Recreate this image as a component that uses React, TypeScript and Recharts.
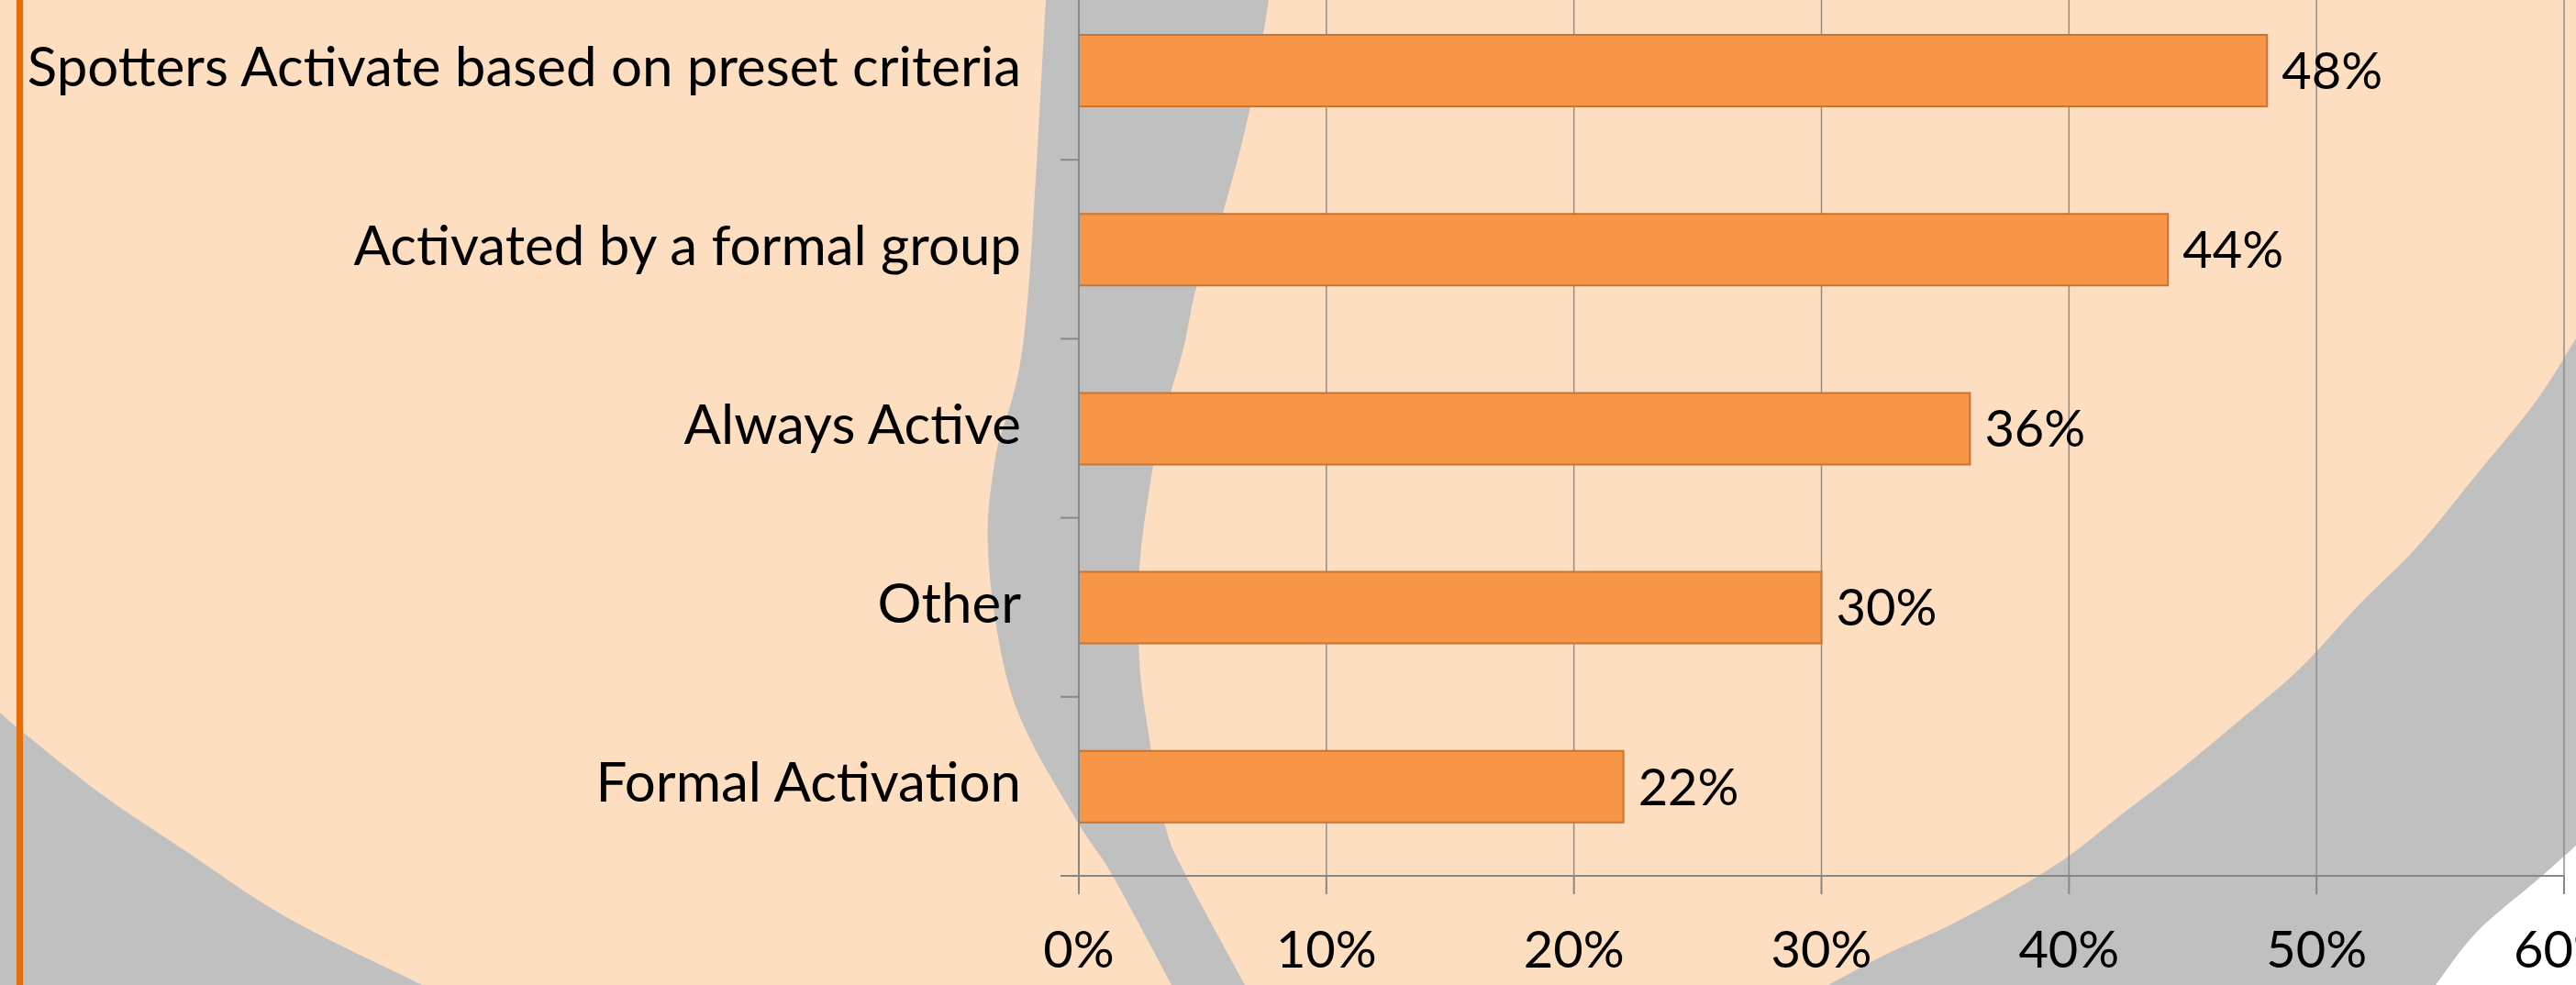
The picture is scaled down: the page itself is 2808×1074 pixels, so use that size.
import React from 'react';
import { BarChart, Bar, XAxis, YAxis, CartesianGrid, LabelList } from 'recharts';

const categories = [
  'Spotters Activate based on preset criteria',
  'Activated by a formal group',
  'Always Active',
  'Other',
  'Formal Activation',
];
const values = [48, 44, 36, 30, 22];
const xTicks = [0, 10, 20, 30, 40, 50, 60];

const data = categories.map((name, i) => ({ name, value: values[i] }));

// slide background decoration (not data)
const bandLeft = [
  [1140, 0], [1117, 360], [1085, 500], [1077, 600], [1093, 720],
  [1120, 800], [1177, 900], [1213, 955], [1277, 1074],
];
const bandRight = [
  [1383, 0], [1363, 116], [1333, 232], [1305, 310], [1290, 380], [1270, 450],
  [1255, 520], [1242, 620], [1242, 720], [1252, 800], [1270, 900], [1293, 955], [1357, 1074],
];
const cornerLeft = [[0, 777], [27, 800], [112, 867], [201, 927], [312, 1000], [446, 1067], [460, 1074]];
const arcRight = [
  [2808, 369], [2764, 438], [2700, 517], [2635, 596], [2571, 660], [2507, 729], [2443, 784],
  [2378, 838], [2314, 887], [2250, 937], [2186, 976], [2121, 1011], [2057, 1040], [1993, 1074],
];
const whiteCorner = [[2808, 922], [2764, 961], [2700, 1016], [2655, 1074]];

// catmull-rom through the points, continuing an already started path
const curve = (pts: number[][]) => {
  let d = '';
  for (let i = 0; i < pts.length - 1; i++) {
    const p0 = pts[i - 1] || pts[i];
    const p1 = pts[i];
    const p2 = pts[i + 1];
    const p3 = pts[i + 2] || p2;
    const c1 = [p1[0] + (p2[0] - p0[0]) / 6, p1[1] + (p2[1] - p0[1]) / 6];
    const c2 = [p2[0] - (p3[0] - p1[0]) / 6, p2[1] - (p3[1] - p1[1]) / 6];
    d += ` C${c1[0]},${c1[1]} ${c2[0]},${c2[1]} ${p2[0]},${p2[1]}`;
  }
  return d;
};

const bandPath = () => {
  const right = [...bandRight].reverse();
  return `M${bandLeft[0][0]},${bandLeft[0][1]}` + curve(bandLeft) + ` L${right[0][0]},${right[0][1]}` + curve(right) + ' Z';
};

const PEACH = '#fddec1';
const GRAY = '#c0c0c0';
const AXIS = '#878787';
const FONT = 'Lato, "Open Sans", sans-serif';

const CategoryTick = (props: any) => {
  const { x, y, payload } = props;
  const half = payload && payload.offset ? payload.offset : 97.6;
  return (
    <g>
      <text x={x} y={y} dy={17} textAnchor="end" fill="#000" fontFamily={FONT} fontSize={60}>
        {payload.value}
      </text>
      <line x1={x + 43} x2={x + 63} y1={y + half} y2={y + half} stroke={AXIS} strokeWidth={2} />
    </g>
  );
};

const PercentTick = (props: any) => {
  const { x, y, payload } = props;
  return (
    <text x={x} y={y} dy={78} textAnchor="middle" fill="#000" fontFamily={FONT} fontSize={56}>
      {`${payload.value}%`}
    </text>
  );
};

const App: React.FC = () => {
  return (
    <div
      style={{
        position: 'absolute',
        left: 0,
        top: 0,
        width: 2808,
        height: 1074,
        overflow: 'hidden',
        background: PEACH,
      }}
    >
      <svg width={2808} height={1074} style={{ position: 'absolute', left: 0, top: 0 }}>
        <path d={bandPath()} fill={GRAY} />
        <path d={`M0,1074 L${cornerLeft[0][0]},${cornerLeft[0][1]}` + curve(cornerLeft) + ' Z'} fill={GRAY} />
        <path d={`M2808,1074 L${arcRight[0][0]},${arcRight[0][1]}` + curve(arcRight) + ' Z'} fill={GRAY} />
        <path d={`M2808,1074 L${whiteCorner[0][0]},${whiteCorner[0][1]}` + curve(whiteCorner) + ' Z'} fill="#ffffff" />
        <rect x={18} y={0} width={7} height={1074} fill="#e46c0a" />
      </svg>

      <div style={{ position: 'absolute', left: 0, top: -21 }}>
        <BarChart
          width={2808}
          height={1110}
          data={data}
          layout="vertical"
          margin={{ top: 0, right: 13, bottom: 0, left: 0 }}
        >
          <CartesianGrid horizontal={false} stroke="#8e8e8e" strokeWidth={1.5} />
          <XAxis
            type="number"
            domain={[0, 60]}
            ticks={xTicks}
            height={134}
            tickSize={20}
            axisLine={{ stroke: AXIS, strokeWidth: 2 }}
            tickLine={{ stroke: AXIS, strokeWidth: 2 }}
            tick={<PercentTick />}
            interval={0}
          />
          <YAxis
            type="category"
            dataKey="name"
            width={1176}
            tickSize={20}
            tickMargin={43}
            tickLine={false}
            axisLine={{ stroke: AXIS, strokeWidth: 2 }}
            tick={<CategoryTick />}
            interval={0}
          />
          <Bar dataKey="value" fill="#f79646" stroke="#c97434" strokeWidth={2} barSize={78} isAnimationActive={false}>
            <LabelList
              dataKey="value"
              position="right"
              offset={16}
              formatter={(v: any) => `${v}%`}
              fill="#000"
              fontFamily={FONT}
              fontSize={56}
            />
          </Bar>
        </BarChart>
      </div>
    </div>
  );
};

export default App;
